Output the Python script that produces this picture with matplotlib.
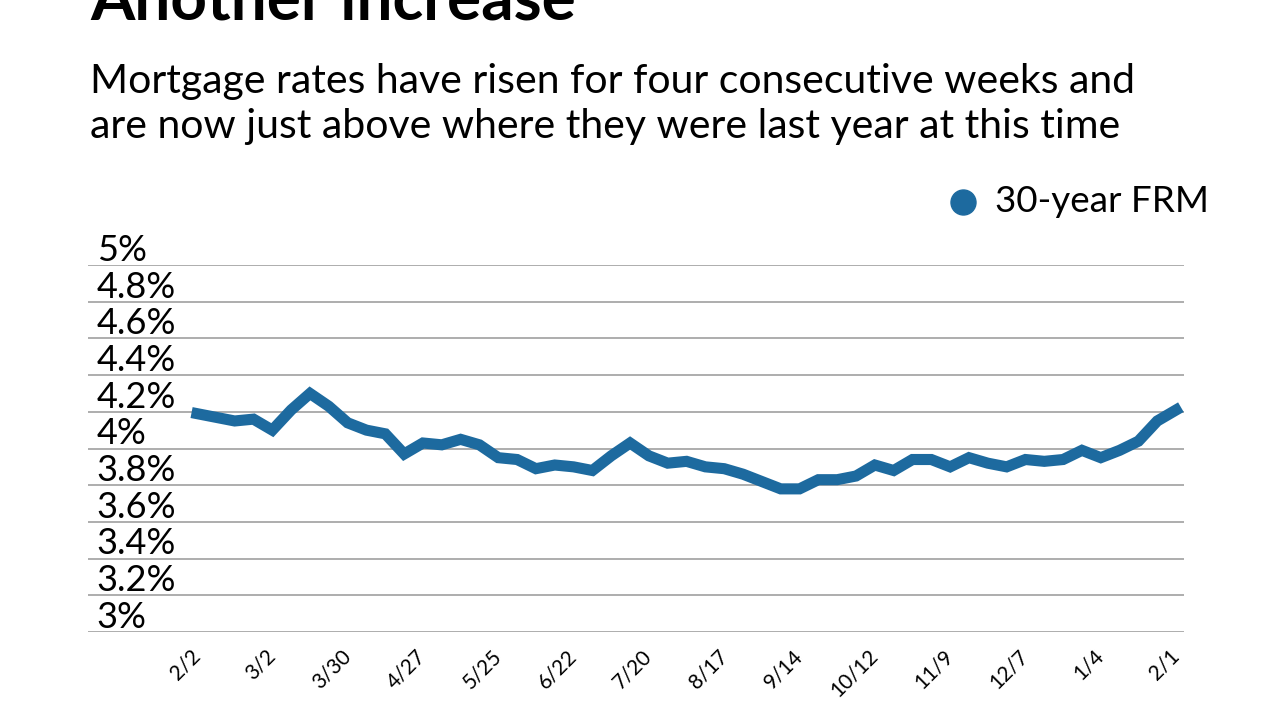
import numpy as np
import matplotlib
matplotlib.use("Agg")
import matplotlib.pyplot as plt
import matplotlib.transforms as mtransforms
from matplotlib.lines import Line2D

plt.rcParams['font.family'] = ['Lato', 'DejaVu Sans']

# weekly 30-year fixed rate, 2/2 through 2/1 of the next year
weeks = ['2/2', '2/9', '2/16', '2/23', '3/2', '3/9', '3/16', '3/23', '3/30',
         '4/6', '4/13', '4/20', '4/27', '5/4', '5/11', '5/18', '5/25', '6/1',
         '6/8', '6/15', '6/22', '6/29', '7/6', '7/13', '7/20', '7/27', '8/3',
         '8/10', '8/17', '8/24', '8/31', '9/7', '9/14', '9/21', '9/28', '10/5',
         '10/12', '10/19', '10/26', '11/2', '11/9', '11/16', '11/22', '11/30',
         '12/7', '12/14', '12/21', '12/28', '1/4', '1/11', '1/18', '1/25', '2/1']
rates = [4.19, 4.17, 4.15, 4.16, 4.10, 4.21, 4.30, 4.23, 4.14,
         4.10, 4.08, 3.97, 4.03, 4.02, 4.05, 4.02, 3.95, 3.94,
         3.89, 3.91, 3.90, 3.88, 3.96, 4.03, 3.96, 3.92, 3.93,
         3.90, 3.89, 3.86, 3.82, 3.78, 3.78, 3.83, 3.83, 3.85,
         3.91, 3.88, 3.94, 3.94, 3.90, 3.95, 3.92, 3.90,
         3.94, 3.93, 3.94, 3.99, 3.95, 3.99, 4.04, 4.15, 4.21]
y_ticks = [3.0, 3.2, 3.4, 3.6, 3.8, 4.0, 4.2, 4.4, 4.6, 4.8, 5.0]
y_labels = ['3%', '3.2%', '3.4%', '3.6%', '3.8%', '4%', '4.2%', '4.4%', '4.6%', '4.8%', '5%']

title = 'Another increase'
subtitle_lines = ['Mortgage rates have risen for four consecutive weeks and',
                  'are now just above where they were last year at this time']
series_name = '30-year FRM'

blue = '#1d6a9f'
grid_gray = '#a0a0a0'

fig = plt.figure(figsize=(12.8, 7.2), dpi=100)
ax = fig.add_axes([88 / 1280, 1 - 632 / 720, 1096 / 1280, (632 - 265) / 720])

x = np.arange(len(rates))
ax.plot(x, rates, color=blue, linewidth=8, solid_joinstyle='miter', zorder=3)

ax.set_ylim(3, 5)
ax.set_xlim(-5.79, 52.42)
ax.set_yticks(y_ticks)
ax.set_yticklabels([])
ax.tick_params(axis='y', length=0)
ax.grid(axis='y', color=grid_gray, linewidth=1.2)
ax.grid(axis='x', visible=False)
for s in ax.spines.values():
    s.set_visible(False)

# y labels sit on top of their gridlines
trans = mtransforms.blended_transform_factory(ax.transAxes, ax.transData)
for v, lab in zip(y_ticks, y_labels):
    ax.annotate(lab, xy=(0.008, v), xycoords=trans, xytext=(0, 3),
                textcoords='offset points', ha='left', va='baseline',
                fontsize=26, color='black')

tick_idx = x[::4]
ax.set_xticks(tick_idx)
ax.set_xticklabels([weeks[i] for i in tick_idx], rotation=45,
                   rotation_mode='anchor', ha='right', va='center', fontsize=15)
ax.tick_params(axis='x', length=0, pad=15)

fig.text(90 / 1280, 1 - 20 / 720, title, fontsize=46, fontweight='bold',
         ha='left', va='baseline')
for i, line in enumerate(subtitle_lines):
    fig.text(90 / 1280, 1 - (93 + 45 * i) / 720, line, fontsize=29.5,
             ha='left', va='baseline')

# legend
fig.add_artist(Line2D([963 / 1280], [1 - 202 / 720], transform=fig.transFigure,
                      marker='o', markersize=18, color=blue, linestyle='none'))
fig.text(995 / 1280, 1 - 202 / 720, series_name, fontsize=26.5, ha='left',
         va='center')

fig.savefig('out.png', dpi=100)
